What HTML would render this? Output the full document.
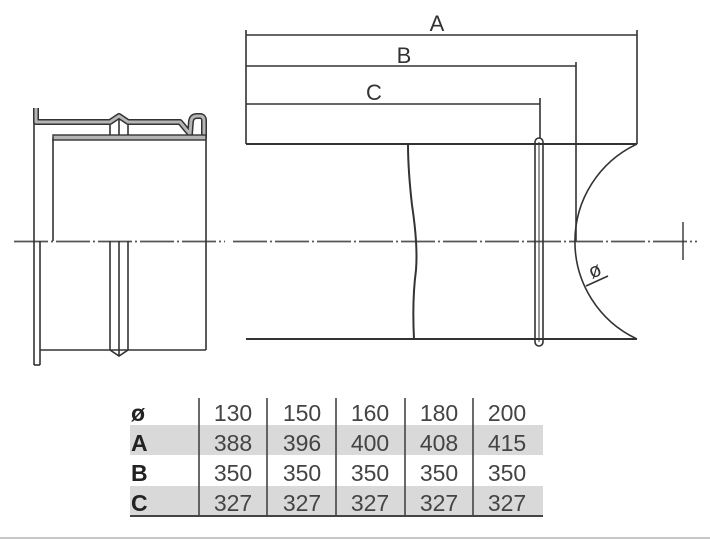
<!DOCTYPE html>
<html><head><meta charset="utf-8"><style>
html,body{margin:0;padding:0;background:#fff;width:710px;height:540px;overflow:hidden}
svg{display:block}
text{font-family:"Liberation Sans","DejaVu Sans",sans-serif}
</style></head><body>
<svg width="710" height="540" viewBox="0 0 710 540" xmlns="http://www.w3.org/2000/svg">
<g fill="none" stroke="#333" stroke-width="1.6">
<line x1="14" y1="241.5" x2="225" y2="241.5" stroke="#555" stroke-width="1.8" stroke-dasharray="34,3,2,3"/>
<line x1="233" y1="241.5" x2="697" y2="241.5" stroke="#555" stroke-width="1.8" stroke-dasharray="34,3,2,3"/>
<line x1="683" y1="222" x2="683" y2="260" stroke-width="1.4"/>

<line x1="34" y1="110" x2="34" y2="365"/>
<line x1="40" y1="241" x2="40" y2="365"/>
<line x1="34" y1="365" x2="40" y2="365"/>
<line x1="53" y1="138" x2="53" y2="241"/>
<line x1="206" y1="120" x2="206" y2="350"/>
<line x1="40" y1="350" x2="206" y2="350"/>
<line x1="110" y1="241" x2="110" y2="350"/>
<line x1="119" y1="241" x2="119" y2="355"/>
<line x1="128" y1="241" x2="128" y2="350"/>
<polyline points="110,350 119,356 128,350"/>
<line x1="110" y1="125" x2="110" y2="137"/>
<line x1="119" y1="118" x2="119" y2="137"/>
<line x1="128" y1="125" x2="128" y2="137"/>
</g>
<path d="M36,108 L36,122 L110,122 L119,116 L128,122 L180,122 L190,134 L191,121 Q192,116 197,116 L200,116 Q204,116 204,121 L204,138" fill="none" stroke="#333" stroke-width="6" stroke-linejoin="round"/>
<path d="M36,108 L36,122 L110,122 L119,116 L128,122 L180,122 L190,134 L191,121 Q192,116 197,116 L200,116 Q204,116 204,121 L204,138" fill="none" stroke="#b5b5b5" stroke-width="3" stroke-linejoin="round"/>
<rect x="53" y="135" width="153" height="5" fill="#b5b5b5" stroke="#333" stroke-width="1.4"/>

<g fill="none" stroke="#333" stroke-width="1.6">
<line x1="246" y1="144" x2="637" y2="144" stroke-width="2"/>
<line x1="246" y1="339" x2="637" y2="339" stroke-width="2"/>
<line x1="246" y1="30" x2="246" y2="144"/>
<line x1="637" y1="30" x2="637" y2="144"/>
<line x1="576" y1="62" x2="576" y2="241"/>
<line x1="540" y1="98" x2="540" y2="138"/>
<path d="M637,144 A107.6,107.6 0 0 0 637,339"/>
<path d="M408,144 Q408,170 412,205 Q418,245 416,270 Q412,300 414,339" stroke-width="2"/>
<rect x="535" y="138" width="8" height="208" rx="4" stroke-width="1.6"/>
<line x1="539" y1="142" x2="539" y2="342" stroke-width="1"/>
<line x1="246" y1="35" x2="637" y2="35"/>
<line x1="246" y1="66" x2="576" y2="66"/>
<line x1="246" y1="104" x2="540" y2="104"/>
<line x1="586" y1="286" x2="608" y2="276"/>
</g>
<g fill="#333" font-size="22">
<text x="437" y="31" text-anchor="middle">A</text>
<text x="404" y="63" text-anchor="middle">B</text>
<text x="374" y="100" text-anchor="middle">C</text>
<text x="0" y="0" font-size="20" transform="translate(592,279) rotate(-25)">ø</text>
</g>

<rect x="130" y="425" width="413" height="30" fill="#d9d9d9"/>
<rect x="130" y="486" width="413" height="29" fill="#d9d9d9"/>
<line x1="130" y1="516" x2="543" y2="516" stroke="#444" stroke-width="2"/>
<g stroke="#444" stroke-width="1.6">
<line x1="199" y1="398" x2="199" y2="516"/>
<line x1="267" y1="398" x2="267" y2="516"/>
<line x1="336" y1="398" x2="336" y2="516"/>
<line x1="405" y1="398" x2="405" y2="516"/>
<line x1="473" y1="398" x2="473" y2="516"/>
</g>
<g font-size="23" fill="#444" text-anchor="middle">
<text x="233" y="421">130</text><text x="302" y="421">150</text><text x="370" y="421">160</text><text x="439" y="421">180</text><text x="507" y="421">200</text>
<text x="233" y="451">388</text><text x="302" y="451">396</text><text x="370" y="451">400</text><text x="439" y="451">408</text><text x="507" y="451">415</text>
<text x="233" y="481">350</text><text x="302" y="481">350</text><text x="370" y="481">350</text><text x="439" y="481">350</text><text x="507" y="481">350</text>
<text x="233" y="511">327</text><text x="302" y="511">327</text><text x="370" y="511">327</text><text x="439" y="511">327</text><text x="507" y="511">327</text>
</g>
<g font-size="23" font-weight="bold" fill="#222">
<text x="131" y="421">ø</text>
<text x="131" y="451">A</text>
<text x="131" y="481">B</text>
<text x="131" y="511">C</text>
</g>
<line x1="0" y1="538" x2="710" y2="538" stroke="#c8c8c8" stroke-width="2"/>
</svg>
</body></html>
